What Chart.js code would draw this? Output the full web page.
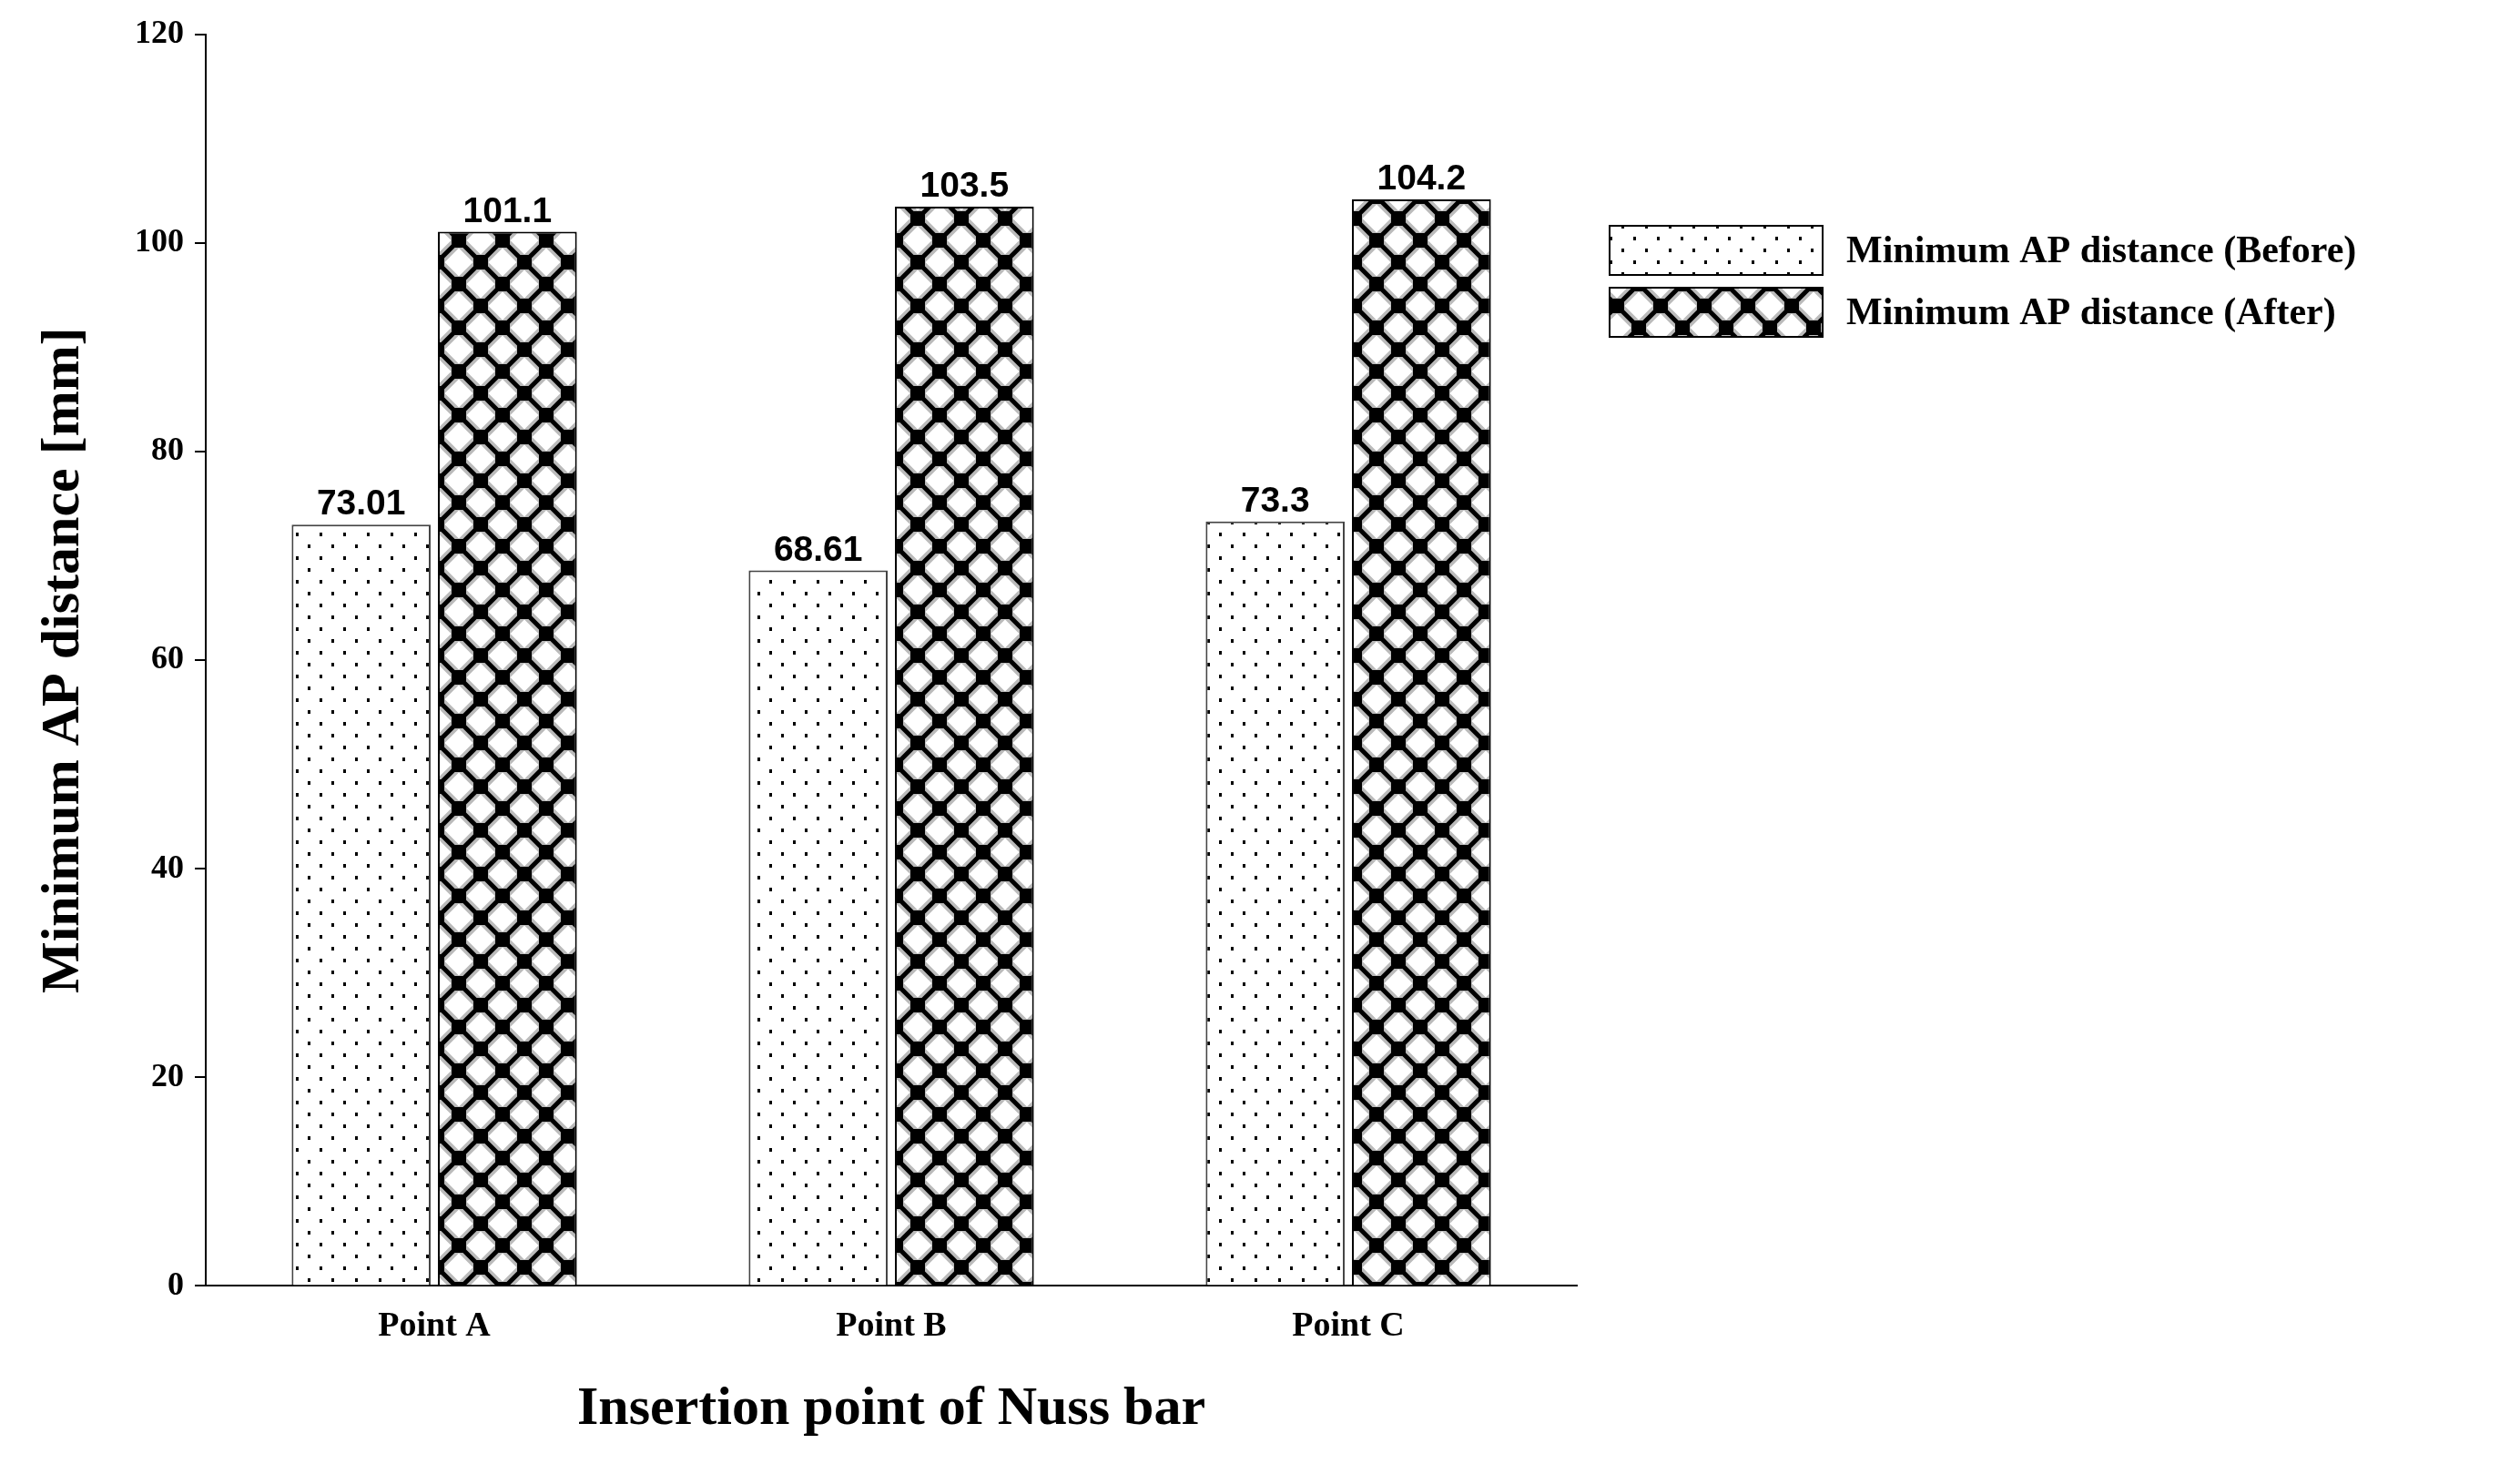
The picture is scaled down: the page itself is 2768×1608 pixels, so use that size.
<!DOCTYPE html>
<html><head><meta charset="utf-8">
<script src="https://cdn.jsdelivr.net/npm/chart.js@4"></script>
<style>html,body{margin:0;background:#fff}#w{width:2768px;height:1608px}</style>
</head><body><div id="w"><canvas id="c"></canvas></div>
<script>
const categories = ["Point A", "Point B", "Point C"];
const beforeValues = [73.01, 68.61, 73.3];
const afterValues = [101.1, 103.5, 104.2];
const beforeLabels = ["73.01", "68.61", "73.3"];
const afterLabels = ["101.1", "103.5", "104.2"];
const seriesNames = ["Minimum AP distance (Before)", "Minimum AP distance (After)"];
const yTicks = [0, 20, 40, 60, 80, 100, 120];

function dotPattern(){
  const c=document.createElement('canvas');c.width=26;c.height=26;
  const g=c.getContext('2d');g.fillStyle='#fff';g.fillRect(0,0,26,26);
  g.fillStyle='#000';g.fillRect(0,0,3,4);g.fillRect(13,13,3,4);
  return g.createPattern(c,'repeat');
}
function crossPattern(){
  const s=48,c=document.createElement('canvas');c.width=s;c.height=s;
  const g=c.getContext('2d');g.fillStyle='#fff';g.fillRect(0,0,s,s);
  const line=(w,col)=>{g.strokeStyle=col;g.lineWidth=w;g.beginPath();
    g.moveTo(-s,-s);g.lineTo(2*s,2*s);g.moveTo(2*s,-s);g.lineTo(-s,2*s);
    g.moveTo(-s/2-s, -s/2+s);g.stroke();
    g.beginPath();g.moveTo(0,-s);g.lineTo(2*s,s);g.moveTo(-s,0);g.lineTo(s,2*s);
    g.moveTo(s,-s);g.lineTo(-s,s);g.moveTo(2*s,0);g.lineTo(0,2*s);g.stroke();};
  line(12,'#bbb');line(5,'#000');
  g.fillStyle='#000';
  [[0,0],[s,0],[0,s],[s,s]].forEach(([x,y])=>g.fillRect(x-8,y-8,16,16));
  g.fillRect(s/2-8,s/2-8,16,16);
  return g.createPattern(c,'repeat');
}
const pats=[dotPattern(),crossPattern()];

const valueLabels={id:'vl',afterDatasetsDraw(ch){
  const g=ch.ctx;g.save();g.fillStyle='#000';g.font='bold 39px "Liberation Sans", Arial';
  g.textAlign='center';g.textBaseline='bottom';
  [beforeLabels,afterLabels].forEach((labs,i)=>{
    ch.getDatasetMeta(i).data.forEach((b,j)=>g.fillText(labs[j],b.x,b.y-2));
  });
  // legend
  const x0=1768,ys=[248,316],bw=234,bh=54;
  g.font='bold 42px "Liberation Serif", "Times New Roman"';g.textAlign='left';g.textBaseline='middle';
  ys.forEach((y,i)=>{g.fillStyle=pats[i];g.fillRect(x0,y,bw,bh);g.strokeStyle='#000';g.lineWidth=2;g.strokeRect(x0,y,bw,bh);
    g.fillStyle='#000';g.fillText(seriesNames[i],x0+260,y+bh/2+2);});
  g.restore();
}};

new Chart(document.getElementById('c'),{
  type:'bar',
  data:{labels:categories,datasets:[
    {label:seriesNames[0],data:beforeValues,backgroundColor:pats[0],borderColor:'#444',borderWidth:2},
    {label:seriesNames[1],data:afterValues,backgroundColor:pats[1],borderColor:'#000',borderWidth:2}
  ]},
  options:{responsive:true,maintainAspectRatio:false,animation:false,
    categoryPercentage:0.64,barPercentage:0.95,
    layout:{padding:{left:30,top:38,right:1036,bottom:20}},
    plugins:{legend:{display:false},tooltip:{enabled:false}},
    scales:{
      x:{grid:{display:false,drawTicks:false},border:{color:'#000',width:2},
        ticks:{color:'#000',padding:22,font:{family:'"Liberation Serif"',weight:'bold',size:38}},
        title:{display:true,text:'Insertion point of Nuss bar',color:'#000',padding:{top:10},font:{family:'"Liberation Serif"',weight:'bold',size:60}}},
      y:{min:0,max:120,afterBuildTicks(a){a.ticks=yTicks.map(v=>({value:v}));},
        grid:{display:true,drawOnChartArea:false,drawTicks:true,tickLength:12,color:'#000',lineWidth:2},border:{color:'#000',width:2},
        ticks:{color:'#000',padding:12,font:{family:'"Liberation Serif"',weight:'bold',size:36}},
        title:{display:true,text:'Minimum AP distance [mm]',color:'#000',padding:{bottom:30},font:{family:'"Liberation Serif"',weight:'bold',size:60}}}
    }}
  ,plugins:[valueLabels]});
</script></body></html>
